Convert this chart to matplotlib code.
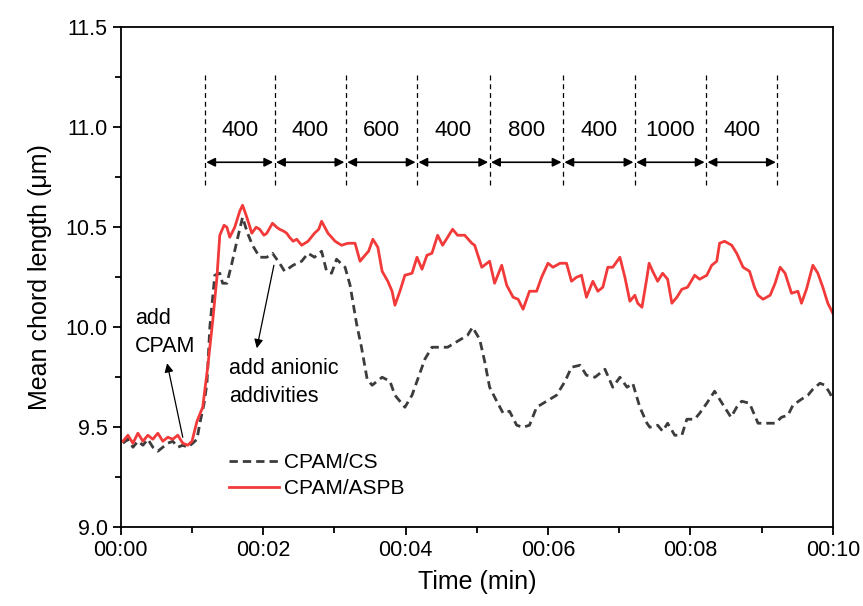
import numpy as np
import matplotlib.pyplot as plt
from matplotlib.ticker import MultipleLocator, FuncFormatter

plt.rcParams['font.family'] = ['Liberation Sans', 'DejaVu Sans']

# CPAM/ASPB (red, solid) - time in minutes, mean chord length in um
t_aspb = [0.03, 0.10, 0.17, 0.24, 0.31, 0.38, 0.45, 0.52, 0.59, 0.66, 0.73, 0.80, 0.87, 0.94,
          1.00, 1.07, 1.15, 1.22, 1.29, 1.35, 1.39, 1.45, 1.49, 1.53, 1.60, 1.67, 1.71, 1.77,
          1.84, 1.90, 1.95, 2.01, 2.05, 2.13, 2.19, 2.23, 2.29, 2.33, 2.37, 2.42, 2.47, 2.54,
          2.63, 2.72, 2.78, 2.82, 2.91, 3.01, 3.10, 3.19, 3.29, 3.36, 3.43, 3.48, 3.54, 3.61,
          3.67, 3.75, 3.81, 3.85, 3.92, 3.99, 4.09, 4.16, 4.23, 4.30, 4.37, 4.45, 4.52, 4.59,
          4.66, 4.73, 4.83, 4.93, 4.97, 5.07, 5.18, 5.25, 5.35, 5.42, 5.51, 5.58, 5.65, 5.74,
          5.84, 5.91, 6.00, 6.07, 6.17, 6.26, 6.33, 6.40, 6.47, 6.54, 6.63, 6.70, 6.77, 6.84,
          6.91, 7.01, 7.08, 7.15, 7.22, 7.26, 7.32, 7.39, 7.42, 7.47, 7.54, 7.61, 7.68, 7.74,
          7.81, 7.88, 7.96, 8.06, 8.13, 8.23, 8.30, 8.37, 8.41, 8.48, 8.58, 8.65, 8.74, 8.83,
          8.90, 8.95, 9.02, 9.12, 9.19, 9.26, 9.33, 9.42, 9.51, 9.56, 9.63, 9.72, 9.79, 9.86,
          9.93, 10.00]
y_aspb = [9.43, 9.46, 9.42, 9.47, 9.43, 9.46, 9.44, 9.47, 9.43, 9.45, 9.44, 9.46, 9.42, 9.41,
          9.43, 9.53, 9.60, 9.80, 10.03, 10.25, 10.46, 10.51, 10.50, 10.45, 10.50, 10.58, 10.61, 10.55,
          10.47, 10.50, 10.49, 10.46, 10.47, 10.52, 10.50, 10.49, 10.48, 10.47, 10.45, 10.43, 10.44, 10.41,
          10.43, 10.47, 10.49, 10.53, 10.47, 10.43, 10.41, 10.42, 10.42, 10.33, 10.36, 10.38, 10.44, 10.40,
          10.28, 10.23, 10.18, 10.11, 10.18, 10.26, 10.27, 10.35, 10.29, 10.36, 10.37, 10.46, 10.41, 10.45,
          10.49, 10.46, 10.46, 10.42, 10.41, 10.30, 10.33, 10.22, 10.31, 10.21, 10.15, 10.14, 10.09, 10.18,
          10.18, 10.25, 10.32, 10.30, 10.32, 10.32, 10.23, 10.25, 10.26, 10.15, 10.23, 10.18, 10.20, 10.30,
          10.30, 10.35, 10.25, 10.13, 10.16, 10.12, 10.10, 10.25, 10.32, 10.28, 10.23, 10.27, 10.24, 10.12,
          10.15, 10.19, 10.20, 10.26, 10.24, 10.26, 10.31, 10.33, 10.42, 10.43, 10.41, 10.37, 10.30, 10.28,
          10.20, 10.16, 10.14, 10.16, 10.22, 10.30, 10.27, 10.17, 10.18, 10.12, 10.19, 10.31, 10.27, 10.20,
          10.12, 10.07]

# CPAM/CS (grey, dashed)
t_cs = [0.03, 0.10, 0.17, 0.24, 0.31, 0.38, 0.45, 0.52, 0.59, 0.66, 0.73, 0.80, 0.87, 0.94,
        1.01, 1.07, 1.11, 1.17, 1.21, 1.25, 1.32, 1.39, 1.43, 1.49, 1.56, 1.63, 1.71, 1.78,
        1.85, 1.95, 2.05, 2.13, 2.23, 2.30, 2.42, 2.54, 2.63, 2.72, 2.82, 2.89, 2.96, 3.03,
        3.15, 3.22, 3.31, 3.38, 3.46, 3.53, 3.67, 3.78, 3.85, 3.99, 4.09, 4.17, 4.27, 4.37,
        4.51, 4.59, 4.73, 4.87, 4.94, 5.04, 5.11, 5.18, 5.28, 5.37, 5.46, 5.56, 5.65, 5.74,
        5.84, 5.98, 6.12, 6.24, 6.33, 6.45, 6.54, 6.66, 6.80, 6.91, 7.01, 7.11, 7.19, 7.29,
        7.39, 7.43, 7.54, 7.61, 7.68, 7.78, 7.88, 7.95, 8.06, 8.13, 8.23, 8.34, 8.41, 8.48,
        8.57, 8.65, 8.72, 8.83, 8.95, 9.07, 9.19, 9.28, 9.37, 9.44, 9.56, 9.65, 9.72, 9.82,
        9.89, 9.96, 10.00]
y_cs = [9.42, 9.44, 9.40, 9.43, 9.41, 9.44, 9.40, 9.38, 9.40, 9.42, 9.43, 9.40, 9.41, 9.40,
        9.42, 9.44, 9.52, 9.62, 9.72, 10.00, 10.26, 10.27, 10.22, 10.22, 10.32, 10.43, 10.55, 10.47,
        10.41, 10.35, 10.35, 10.37, 10.32, 10.28, 10.31, 10.33, 10.37, 10.35, 10.38, 10.28, 10.27, 10.34,
        10.30, 10.21, 10.02, 9.90, 9.74, 9.71, 9.75, 9.73, 9.66, 9.60, 9.66, 9.74, 9.84, 9.90,
        9.90, 9.90, 9.93, 9.96, 10.00, 9.94, 9.83, 9.70, 9.63, 9.57, 9.58, 9.51, 9.50, 9.51,
        9.60, 9.63, 9.66, 9.73, 9.80, 9.81, 9.76, 9.75, 9.79, 9.70, 9.75, 9.70, 9.72, 9.60,
        9.52, 9.50, 9.51, 9.48, 9.52, 9.46, 9.46, 9.54, 9.54, 9.57, 9.62, 9.68, 9.64, 9.60,
        9.55, 9.60, 9.63, 9.62, 9.52, 9.52, 9.52, 9.55, 9.56, 9.61, 9.64, 9.66, 9.69, 9.72,
        9.71, 9.67, 9.64]

# dosing steps (upper annotation)
step_edges = [1.18, 2.16, 3.16, 4.16, 5.18, 6.21, 7.22, 8.22, 9.22]
step_labels = ['400', '400', '600', '400', '800', '400', '1000', '400']

fig = plt.figure(figsize=(8.63, 6.06), dpi=100)
ax = fig.add_axes([0.140, 0.130, 0.825, 0.825])

ax.plot(t_cs, y_cs, color='#3c3c3c', lw=2.0, ls=(0, (3, 1.8)), label='CPAM/CS')
ax.plot(t_aspb, y_aspb, color='#f23a3a', lw=2.0, label='CPAM/ASPB')

# dashed step separators, arrows and dose labels
for xe in step_edges:
    ax.plot([xe, xe], [10.71, 11.26], color='black', lw=0.9, ls=(0, (4, 3)))
for i, lab in enumerate(step_labels):
    x0, x1 = step_edges[i], step_edges[i + 1]
    ax.annotate('', xy=(x1 - 0.02, 10.825), xytext=(x0 + 0.02, 10.825),
                arrowprops=dict(arrowstyle='<|-|>', color='black', lw=1.2,
                                mutation_scale=13, shrinkA=0, shrinkB=0))
    ax.text((x0 + x1) / 2, 10.985, lab, ha='center', va='center', fontsize=16)

# addition annotations
ax.annotate('', xy=(0.65, 9.82), xytext=(0.87, 9.45),
            arrowprops=dict(arrowstyle='-|>', color='black', lw=0.9,
                            mutation_scale=13, shrinkA=0, shrinkB=0))
ax.text(0.2, 10.095, 'add\nCPAM', ha='left', va='top', fontsize=15.5, linespacing=1.45)
ax.annotate('', xy=(1.91, 9.895), xytext=(2.15, 10.31),
            arrowprops=dict(arrowstyle='-|>', color='black', lw=0.9,
                            mutation_scale=13, shrinkA=0, shrinkB=0))
ax.text(1.52, 9.845, 'add anionic\naddivities', ha='left', va='top', fontsize=15.5, linespacing=1.45)

ax.set_xlim(0, 10)
ax.set_ylim(9.0, 11.5)
ax.xaxis.set_major_locator(MultipleLocator(2))
ax.xaxis.set_minor_locator(MultipleLocator(1))
ax.xaxis.set_major_formatter(FuncFormatter(lambda v, p: f"00:{int(round(v)):02d}"))
ax.yaxis.set_major_locator(MultipleLocator(0.5))
ax.yaxis.set_minor_locator(MultipleLocator(0.25))
ax.yaxis.set_major_formatter(FuncFormatter(lambda v, p: f"{v:.1f}"))
ax.tick_params(which='both', direction='out', top=False, right=False, labelsize=15.5, width=1.3)
ax.tick_params(which='major', length=6)
ax.tick_params(which='minor', length=4)
for s in ax.spines.values():
    s.set_linewidth(1.3)

ax.set_xlabel('Time (min)', fontsize=18, labelpad=6)
ax.set_ylabel('Mean chord length (μm)', fontsize=18, labelpad=10)

ax.legend(loc='lower left', bbox_to_anchor=(0.125, 0.02), frameon=False, fontsize=15,
          handlelength=2.4, handletextpad=0.25, labelspacing=0.35)

fig.savefig('out.png', dpi=100)
